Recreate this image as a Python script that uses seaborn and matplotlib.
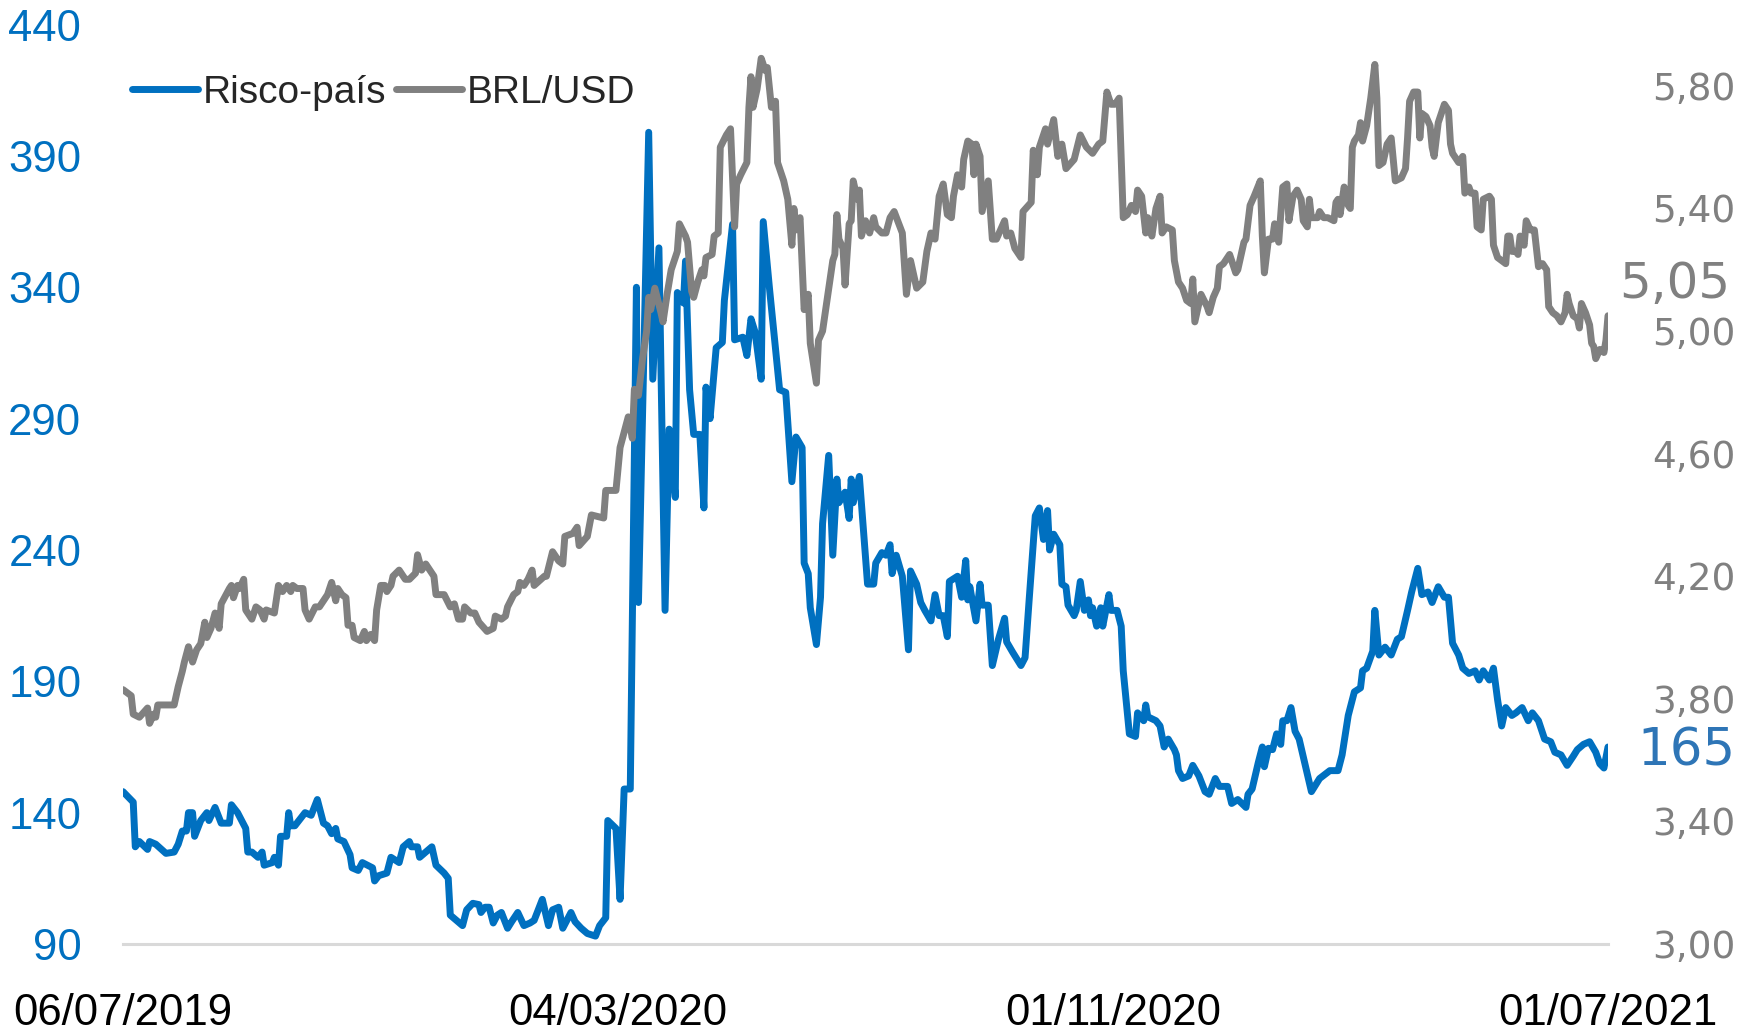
import pandas as pd
import matplotlib
matplotlib.use("Agg")
import matplotlib.pyplot as plt
from matplotlib import font_manager
from matplotlib.lines import Line2D
import seaborn as sns

# Série diária: dias corridos desde 06/07/2019
inicio = "2019-07-06"

risco_dias = [
    0, 5, 6, 8, 12, 13, 16, 21, 25, 27, 29, 31, 32, 34, 35, 38, 41, 42, 45, 48,
    52, 53, 56, 60, 61, 63, 66, 68, 69, 73, 74, 76, 77, 80, 81, 82, 84, 86, 89, 92,
    95, 98, 100, 102, 104, 105, 108, 111, 112, 115, 117, 122, 123, 125, 129, 131, 135, 137, 140, 141,
    144, 145, 148, 151, 153, 157, 159, 160, 163, 166, 168, 171, 174, 175, 177, 179, 181, 183, 185, 188,
    190, 193, 196, 199, 201, 205, 208, 210, 213, 215, 219, 221, 224, 227, 231, 233, 236, 237, 241, 243,
    245, 248, 251, 252, 257, 259, 262, 265, 267, 270, 271, 274, 275, 277, 279, 282, 284, 285, 287, 290,
    293, 294, 298, 299, 303, 305, 307, 309, 312, 313, 316, 321, 324, 327, 329, 332, 333, 335, 336, 339,
    341, 342, 345, 347, 349, 350, 353, 355, 356, 357, 360, 364, 367, 368, 371, 373, 375, 376, 378, 381,
    384, 385, 388, 390, 392, 395, 397, 399, 401, 403, 404, 408, 410, 412, 413, 414, 417, 419, 420, 423,
    425, 428, 431, 432, 435, 439, 441, 443, 446, 448, 450, 452, 453, 455, 458, 459, 461, 462, 465, 466,
    468, 470, 472, 473, 474, 476, 478, 479, 482, 483, 486, 488, 489, 492, 495, 496, 499, 500, 501, 505,
    507, 509, 511, 514, 515, 516, 518, 521, 523, 526, 529, 531, 534, 536, 540, 542, 545, 549, 550, 552,
    555, 557, 558, 560, 562, 564, 566, 567, 569, 571, 573, 575, 581, 585, 590, 594, 596, 599, 602, 605,
    606, 608, 611, 612, 614, 617, 620, 623, 625, 628, 630, 633, 635, 638, 640, 643, 646, 648, 650, 653,
    655, 658, 661, 663, 665, 668, 670, 672, 674, 676, 679, 681, 684, 687, 689, 692, 695, 698, 700, 703,
    706, 709, 711, 714, 717, 720, 722, 724, 726,
]
risco_valores = [
    148, 144, 127, 129, 126, 129, 128, 124.5, 125, 128, 133, 133, 140, 140, 131, 137, 140, 137, 142, 136,
    136, 143, 140, 134, 125, 125, 123, 125, 120, 121, 123, 120, 131, 131, 140, 135, 135, 137, 140, 139,
    145, 136, 135, 132, 134, 130, 129, 124, 119, 118, 121, 119, 114, 116, 117, 123, 121, 127, 129, 127,
    127, 123, 125, 127, 120, 117, 115, 101, 99, 97, 103, 105.5, 105, 102, 104, 104, 98, 101, 102, 96,
    98.5, 102, 97, 98, 99, 107, 97, 103, 104, 96, 102, 98.5, 96, 94, 93, 97, 100, 137, 134, 107,
    149, 149, 340, 220, 399, 305, 355, 217, 286, 260, 338, 334, 350, 301, 284, 284, 256, 302, 290, 317,
    319, 335, 364, 320, 321, 314, 328, 323, 305, 365, 340, 301, 300, 266, 283, 279, 235, 231, 218, 204,
    222, 250, 276, 238, 267, 258, 262, 252, 267, 258, 268, 227, 227, 235, 239, 238, 242, 231, 238, 230,
    202, 232, 227, 220, 217, 213, 223, 215, 215, 207, 228, 230, 222, 236, 221, 226, 213, 227, 219, 219,
    196, 206, 214, 205, 201, 196, 199, 221, 253, 256, 244, 255, 240, 246, 242, 227, 226, 219, 215, 217,
    228, 217, 221, 215, 218, 211, 218, 211, 223, 217, 217, 211, 194, 170, 169, 178, 175, 181, 176.5, 175,
    173, 165, 168, 164, 162, 156, 153, 154, 158, 154, 148, 147, 153, 150, 150, 143.5, 145, 142, 147, 149,
    159, 165, 157.5, 164.5, 164, 170, 166, 175, 175, 180, 171, 168, 148, 153, 156, 156, 162, 177, 186, 187.5,
    194, 195, 201.5, 217, 200, 203, 200, 206, 207, 217, 224, 233, 223, 224, 220, 226, 222, 222, 204.5, 200,
    195, 193, 194, 190.5, 194, 190.5, 195, 183, 173, 180, 177, 178, 180, 175, 178, 175, 168, 167, 163, 162,
    158, 161.5, 164, 166, 167, 163, 158.6, 157, 165,
]

cambio_dias = [
    0, 4, 5, 8, 12, 13, 15, 16, 17, 21, 25, 27, 29, 30, 32, 34, 36, 38, 40, 41,
    43, 45, 47, 48, 52, 53, 54, 56, 57, 59, 60, 63, 65, 67, 69, 70, 74, 76, 78, 80,
    82, 83, 85, 88, 89, 91, 94, 96, 98, 100, 102, 104, 105, 107, 109, 110, 112, 113, 116, 118,
    119, 121, 123, 124, 126, 128, 129, 131, 132, 135, 138, 140, 143, 144, 146, 148, 150, 152, 153, 157,
    160, 162, 164, 166, 167, 170, 172, 174, 178, 181, 182, 185, 187, 188, 191, 193, 194, 196, 198, 200,
    201, 206, 207, 210, 213, 215, 216, 220, 222, 223, 227, 229, 235, 236, 241, 243, 247, 249, 250, 252,
    254, 256, 257, 258, 260, 263, 264, 266, 268, 270, 271, 272, 275, 276, 278, 279, 281, 283, 284, 285,
    288, 289, 291, 292, 295, 297, 299, 300, 302, 305, 306, 307, 308, 310, 312, 314, 315, 317, 319, 320,
    323, 325, 327, 328, 329, 331, 333, 335, 336, 339, 340, 342, 347, 348, 349, 350, 352, 353, 355, 356,
    357, 359, 360, 361, 363, 365, 367, 368, 371, 373, 375, 377, 381, 383, 385, 388, 391, 393, 395, 397,
    399, 401, 403, 405, 406, 408, 410, 411, 413, 415, 416, 417, 419, 420, 423, 425, 427, 431, 432, 434,
    436, 439, 440, 444, 445, 447, 448, 451, 452, 455, 457, 459, 461, 465, 468, 471, 474, 477, 479, 481,
    483, 485, 487, 488, 489, 491, 493, 495, 496, 498, 500, 501, 503, 505, 507, 508, 510, 513, 514, 516,
    518, 520, 522, 523, 524, 526, 527, 530, 531, 533, 535, 536, 538, 541, 544, 545, 548, 549, 551, 553,
    556, 557, 558, 560, 562, 563, 565, 567, 569, 570, 572, 574, 576, 577, 579, 580, 581, 584, 585, 587,
    589, 592, 593, 594, 595, 597, 599, 600, 601, 602, 604, 605, 606, 608, 610, 612, 613, 614, 616, 618,
    620, 621, 622, 625, 627, 628, 629, 631, 633, 634, 635, 637, 639, 640, 641, 643, 646, 648, 649, 650,
    653, 655, 656, 658, 659, 661, 662, 664, 665, 668, 669, 670, 672, 676, 677, 678, 679, 681, 682, 683,
    685, 686, 688, 690, 692, 694, 696, 697, 699, 701, 703, 705, 706, 707, 709, 711, 712, 713, 715, 717,
    718, 719, 720, 722, 724, 725, 726,
]
cambio_valores = [
    3.83, 3.81, 3.75, 3.74, 3.77, 3.72, 3.75, 3.74, 3.78, 3.78, 3.78, 3.84, 3.89, 3.92, 3.97, 3.92, 3.96, 3.98, 4.05, 4.00,
    4.03, 4.08, 4.03, 4.11, 4.16, 4.17, 4.13, 4.17, 4.16, 4.19, 4.09, 4.06, 4.10, 4.09, 4.06, 4.09, 4.08, 4.17, 4.15, 4.17,
    4.15, 4.17, 4.16, 4.16, 4.09, 4.06, 4.10, 4.10, 4.12, 4.14, 4.18, 4.12, 4.16, 4.14, 4.13, 4.04, 4.04, 4.00, 3.99, 4.02,
    3.99, 4.01, 3.99, 4.09, 4.17, 4.17, 4.15, 4.17, 4.20, 4.22, 4.19, 4.19, 4.21, 4.27, 4.22, 4.24, 4.22, 4.20, 4.14, 4.14,
    4.10, 4.11, 4.06, 4.06, 4.10, 4.08, 4.08, 4.05, 4.02, 4.03, 4.07, 4.06, 4.07, 4.10, 4.14, 4.15, 4.18, 4.17, 4.19, 4.22,
    4.17, 4.20, 4.20, 4.28, 4.25, 4.24, 4.33, 4.34, 4.36, 4.30, 4.33, 4.40, 4.39, 4.48, 4.48, 4.62, 4.72, 4.65, 4.81, 4.79,
    4.91, 5.00, 5.11, 5.07, 5.14, 5.06, 5.03, 5.12, 5.20, 5.24, 5.26, 5.35, 5.31, 5.29, 5.13, 5.11, 5.16, 5.20, 5.18, 5.24,
    5.25, 5.31, 5.32, 5.60, 5.64, 5.66, 5.34, 5.48, 5.51, 5.55, 5.73, 5.83, 5.73, 5.79, 5.89, 5.85, 5.86, 5.73, 5.75, 5.55,
    5.49, 5.43, 5.28, 5.40, 5.33, 5.37, 5.07, 5.12, 4.96, 4.83, 4.97, 5.00, 5.23, 5.25, 5.38, 5.30, 5.27, 5.15, 5.35, 5.36,
    5.49, 5.43, 5.46, 5.31, 5.36, 5.32, 5.37, 5.34, 5.32, 5.32, 5.37, 5.39, 5.32, 5.12, 5.23, 5.14, 5.16, 5.26, 5.32, 5.30,
    5.44, 5.48, 5.38, 5.37, 5.44, 5.51, 5.47, 5.56, 5.62, 5.61, 5.51, 5.61, 5.57, 5.39, 5.49, 5.30, 5.30, 5.36, 5.31, 5.32,
    5.27, 5.24, 5.39, 5.42, 5.59, 5.51, 5.60, 5.66, 5.61, 5.69, 5.57, 5.61, 5.53, 5.56, 5.64, 5.60, 5.58, 5.61, 5.62, 5.78,
    5.74, 5.74, 5.76, 5.56, 5.37, 5.38, 5.41, 5.39, 5.46, 5.44, 5.32, 5.37, 5.31, 5.40, 5.44, 5.32, 5.34, 5.33, 5.23, 5.16,
    5.14, 5.10, 5.09, 5.17, 5.03, 5.09, 5.12, 5.08, 5.06, 5.11, 5.14, 5.21, 5.22, 5.25, 5.19, 5.20, 5.29, 5.30, 5.41, 5.44,
    5.49, 5.31, 5.19, 5.30, 5.30, 5.35, 5.29, 5.47, 5.48, 5.36, 5.44, 5.46, 5.43, 5.36, 5.34, 5.43, 5.37, 5.37, 5.39, 5.37,
    5.37, 5.36, 5.42, 5.43, 5.38, 5.47, 5.41, 5.40, 5.60, 5.62, 5.64, 5.68, 5.62, 5.67, 5.76, 5.87, 5.76, 5.54, 5.55, 5.61,
    5.63, 5.56, 5.49, 5.50, 5.53, 5.63, 5.75, 5.78, 5.78, 5.63, 5.71, 5.70, 5.67, 5.60, 5.57, 5.68, 5.74, 5.72, 5.61, 5.58,
    5.55, 5.57, 5.45, 5.47, 5.45, 5.45, 5.34, 5.33, 5.43, 5.44, 5.43, 5.28, 5.24, 5.22, 5.31, 5.31, 5.26, 5.26, 5.25, 5.31,
    5.28, 5.36, 5.33, 5.33, 5.21, 5.22, 5.20, 5.08, 5.06, 5.05, 5.03, 5.06, 5.12, 5.09, 5.05, 5.04, 5.01, 5.09, 5.06, 5.02,
    4.96, 4.95, 4.91, 4.94, 4.93, 4.97, 5.05,
]

datas_eixo = ["06/07/2019", "04/03/2020", "01/11/2020", "01/07/2021"]
ticks_risco = [90, 140, 190, 240, 290, 340, 390, 440]
ticks_cambio = [3.00, 3.40, 3.80, 4.20, 4.60, 5.00, 5.40, 5.80]
nomes = ["Risco-país", "BRL/USD"]

AZUL = "#0070C0"
AZUL_ROTULO = "#2E75B6"
CINZA = "#808080"
CINZA_EIXO = "#D9D9D9"

base = pd.Timestamp(inicio)
risco = pd.DataFrame({"data": base + pd.to_timedelta(risco_dias, unit="D"),
                      "valor": risco_valores})
cambio = pd.DataFrame({"data": base + pd.to_timedelta(cambio_dias, unit="D"),
                       "valor": cambio_valores})

sns.set_style("white")

# Fonte estreita para eixos de datas e risco; tamanhos ajustados à fonte disponível
instaladas = {f.name for f in font_manager.fontManager.ttflist}
if "Liberation Sans Narrow" in instaladas:
    fonte_estreita, tam_eixo, tam_leg = "Liberation Sans Narrow", 36, 32
else:
    fonte_estreita, tam_eixo, tam_leg = "Liberation Sans", 31.5, 28
plt.rcParams["font.family"] = [fonte_estreita, "DejaVu Sans"]

fig = plt.figure(figsize=(17.54, 10.31), dpi=100)
ax = fig.add_axes([0.07013, 0.08438, 0.84664, 0.89176])
ax2 = ax.twinx()

estilo = dict(linewidth=5, solid_joinstyle="round", solid_capstyle="round")
sns.lineplot(data=risco, x="data", y="valor", ax=ax, color=AZUL, **estilo)
sns.lineplot(data=cambio, x="data", y="valor", ax=ax2, color=CINZA, **estilo)

datas_ticks = pd.to_datetime(datas_eixo, format="%d/%m/%Y")
ax.set_xlim(datas_ticks[0], datas_ticks[-1])
ax.set_xticks(datas_ticks)
ax.set_xticklabels(datas_eixo)
ax.set_ylim(ticks_risco[0], ticks_risco[-1])
ax.set_yticks(ticks_risco)
ax.set_yticklabels([str(t) for t in ticks_risco])
ax2.set_ylim(3.0, 6.0)
ax2.set_yticks(ticks_cambio)
ax2.set_yticklabels([f"{t:.2f}".replace(".", ",") for t in ticks_cambio],
                    fontfamily="DejaVu Sans", fontsize=27, color=CINZA)
for a in (ax, ax2):
    a.set_xlabel("")
    a.set_ylabel("")

for lado in ("top", "left", "right"):
    ax.spines[lado].set_visible(False)
ax.spines["bottom"].set_color(CINZA_EIXO)
ax.spines["bottom"].set_linewidth(2.2)
for lado in ax2.spines:
    ax2.spines[lado].set_visible(False)

ax.tick_params(axis="x", length=8, width=1.5, color=CINZA_EIXO, pad=27,
               labelsize=tam_eixo, labelcolor="black")
ax.tick_params(axis="y", length=0, pad=30, labelsize=tam_eixo, labelcolor=AZUL)
ax2.tick_params(axis="y", length=0, pad=32)

# Valores finais das séries destacados à direita
ultimo_risco = risco_valores[-1]
ultimo_cambio = cambio_valores[-1]
ax2.annotate(f"{ultimo_cambio:.2f}".replace(".", ","),
             xy=(risco["data"].iloc[-1], ultimo_cambio),
             xytext=(67, 32), textcoords="offset pixels",
             ha="center", va="center", fontsize=36,
             fontfamily="DejaVu Sans", color=CINZA, annotation_clip=False)
ax.annotate(f"{ultimo_risco:.0f}",
            xy=(risco["data"].iloc[-1], ultimo_risco),
            xytext=(78, -5), textcoords="offset pixels",
            ha="center", va="center", fontsize=37,
            fontfamily="DejaVu Sans", color=AZUL_ROTULO, annotation_clip=False)

alcas = [Line2D([], [], color=AZUL, linewidth=5, solid_capstyle="round"),
         Line2D([], [], color=CINZA, linewidth=5, solid_capstyle="round")]
ax2.legend(alcas, nomes, loc="upper left", bbox_to_anchor=(132 / 1754, 1 - 75 / 1031),
           bbox_transform=fig.transFigure, ncol=2, frameon=False, fontsize=tam_leg,
           handlelength=1.7, handletextpad=0.12, columnspacing=0.25,
           borderpad=0, borderaxespad=0)

fig.savefig("out.png", dpi=100)
